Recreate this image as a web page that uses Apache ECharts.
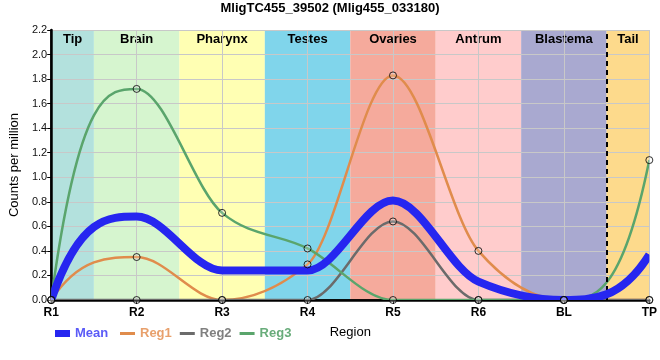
<!DOCTYPE html>
<html><head><meta charset="utf-8">
<script src="https://cdn.jsdelivr.net/npm/echarts@6/dist/echarts.min.js"></script>
<style>html,body{margin:0;padding:0;background:#fff}#c{width:660px;height:360px}</style>
</head><body><div id="c"></div>
<script>
const categories = ['R1','R2','R3','R4','R5','R6','BL','TP'];
const meanVals = [0, 0.68, 0.24, 0.24, 0.81, 0.15, 0.0, 0.37];
const reg1Vals = [0, 0.35, 0, 0.29, 1.83, 0.40, 0, 0];
const reg2Vals = [0, 0, 0, 0, 0.64, 0, 0, 0];
const reg3Vals = [0, 1.72, 0.71, 0.42, 0, 0, 0, 1.14];
const regionNames = ['Tip','Brain','Pharynx','Testes','Ovaries','Antrum','Blastema','Tail'];
const regionColors = ['#b3e1dd','#d6f5cf','#ffffb3','#80d5eb','#f5aa9c','#ffcccc','#a9a9d0','#fdda8c'];
const title = 'MligTC455_39502 (Mlig455_033180)';

const FONT = "'Liberation Sans', Arial, sans-serif";
const n = categories.length;
const toPts = arr => arr.map((v, i) => [i, v]);

// tangent slopes for a monotone cubic curve through the values (unit spacing)
function tangents(ys) {
  const k = ys.length, s = [], m = new Array(k).fill(0);
  for (let i = 0; i < k - 1; i++) s.push(ys[i + 1] - ys[i]);
  for (let i = 1; i < k - 1; i++) {
    if (s[i - 1] * s[i] <= 0) { m[i] = 0; continue; }
    const p = (s[i - 1] + s[i]) / 2;
    m[i] = 2 * Math.sign(s[i]) * Math.min(Math.abs(s[i - 1]), Math.abs(s[i]), 0.5 * Math.abs(p));
  }
  m[0] = 3 * s[0] - 2 * m[1];
  m[k - 1] = 3 * s[k - 2] - 2 * m[k - 2];
  return m;
}

function curveSeries(name, vals, color, width, z) {
  const m = tangents(vals);
  return {
    name: name, type: 'custom', z: z, clip: true, silent: true,
    itemStyle: { color: color },
    data: toPts(vals),
    encode: { x: 0, y: 1 },
    renderItem: function (params, api) {
      if (params.dataIndex !== 0) return null;
      const p0 = api.coord([0, vals[0]]);
      let d = 'M' + p0[0] + ' ' + p0[1];
      for (let i = 0; i < vals.length - 1; i++) {
        const c1 = api.coord([i + 1 / 3, vals[i] + m[i] / 3]);
        const c2 = api.coord([i + 2 / 3, vals[i + 1] - m[i + 1] / 3]);
        const p = api.coord([i + 1, vals[i + 1]]);
        d += ' C' + c1[0] + ' ' + c1[1] + ' ' + c2[0] + ' ' + c2[1] + ' ' + p[0] + ' ' + p[1];
      }
      const cs = params.coordSys;
      return {
        type: 'path',
        shape: { pathData: d },
        style: { fill: null, stroke: color, lineWidth: width },
        clipPath: { type: 'rect', shape: { x: cs.x, y: cs.y, width: cs.width, height: cs.height } }
      };
    }
  };
}

const bandData = regionNames.map((name, i) => [
  { name: name, xAxis: Math.max(0, i - 0.5), itemStyle: { color: regionColors[i] } },
  { xAxis: Math.min(n - 1, i + 0.5) }
]);

const markerCommon = {
  type: 'scatter', symbol: 'circle', symbolSize: 7, z: 8, silent: true,
  itemStyle: { color: 'rgba(255,255,255,0.25)', borderColor: '#000', borderWidth: 1 }
};

const option = {
  animation: false,
  textStyle: { fontFamily: FONT },
  title: { text: title, left: 'center', top: 2, padding: 0,
    textStyle: { fontSize: 13, fontWeight: 'bold', color: '#000', fontFamily: FONT } },
  grid: { left: 50, right: 10, top: 30, bottom: 60 },
  legend: [
    { left: 55, top: 327, padding: 0, itemWidth: 15, itemHeight: 7, itemGap: 8, icon: 'rect',
      data: [{ name: 'Mean', itemStyle: { color: '#2626f0' }, textStyle: { color: '#5b5bf7' } }],
      textStyle: { fontSize: 13, fontWeight: 'bold', fontFamily: FONT } },
    { left: 120, top: 327, padding: 0, itemWidth: 15, itemHeight: 3, itemGap: 8, icon: 'rect',
      data: [
        { name: 'Reg1', itemStyle: { color: '#e08c4c' }, textStyle: { color: '#e8a06c' } },
        { name: 'Reg2', itemStyle: { color: '#6b6b6b' }, textStyle: { color: '#808080' } },
        { name: 'Reg3', itemStyle: { color: '#5aa56c' }, textStyle: { color: '#68ac7a' } }
      ],
      textStyle: { fontSize: 13, fontWeight: 'bold', fontFamily: FONT } }
  ],
  xAxis: [
    { type: 'value', min: 0, max: n - 1, interval: 1, z: 3,
      name: 'Region', nameLocation: 'middle', nameGap: 26,
      nameTextStyle: { fontSize: 13, color: '#000', fontFamily: FONT },
      axisLine: { lineStyle: { color: '#000', width: 2.5 } },
      axisTick: { show: true, length: 4, lineStyle: { color: '#000', width: 1 } },
      axisLabel: { formatter: v => categories[v] || '', fontSize: 12, fontWeight: 'bold', color: '#000', margin: 7 },
      splitLine: { show: true, lineStyle: { color: '#c8c8c8', width: 1 } } },
    { type: 'value', position: 'top', min: 0, max: n - 1, z: 3,
      axisLine: { show: true, lineStyle: { color: '#000', width: 1.5 } },
      axisTick: { show: false }, axisLabel: { show: false }, splitLine: { show: false } }
  ],
  yAxis: [
    { type: 'value', min: 0, max: 2.2, interval: 0.2, z: 3,
      name: 'Counts per million', nameLocation: 'middle', nameGap: 20,
      nameTextStyle: { fontSize: 13, color: '#000', fontFamily: FONT },
      axisLine: { show: true, lineStyle: { color: '#000', width: 2.5 } },
      axisTick: { show: true, length: 4, lineStyle: { color: '#000' } },
      axisLabel: { formatter: v => v.toFixed(1), fontSize: 11, color: '#111', margin: 4 },
      splitLine: { show: true, lineStyle: { color: '#c8c8c8', width: 1 } } },
    { type: 'value', position: 'right', min: 0, max: 2.2, z: 3,
      axisLine: { show: true, lineStyle: { color: '#000', width: 1.5 } },
      axisTick: { show: false }, axisLabel: { show: false }, splitLine: { show: false } }
  ],
  series: [
    { name: 'bands', type: 'line', data: [], z: 1, silent: true,
      markArea: { silent: true,
        label: { show: true, position: 'insideTop', distance: 3, fontSize: 13, fontWeight: 'bold', color: '#000', fontFamily: FONT },
        data: bandData },
      markLine: { silent: true, symbol: 'none', label: { show: false },
        lineStyle: { color: '#000', type: [5, 4], width: 2 },
        data: [{ xAxis: n - 1.5 }] } },
    curveSeries('Reg1', reg1Vals, '#e08c4c', 2.5, 4),
    curveSeries('Reg2', reg2Vals, '#6b6b6b', 2.5, 4),
    curveSeries('Reg3', reg3Vals, '#5aa56c', 2.5, 4),
    curveSeries('Mean', meanVals, '#2626f0', 8, 5),
    Object.assign({}, markerCommon, { name: 'm1', data: toPts(reg1Vals) }),
    Object.assign({}, markerCommon, { name: 'm2', data: toPts(reg2Vals) }),
    Object.assign({}, markerCommon, { name: 'm3', data: toPts(reg3Vals) })
  ]
};
const chart = echarts.init(document.getElementById('c'), null, { renderer: 'canvas' });
chart.setOption(option);
</script>
</body></html>
